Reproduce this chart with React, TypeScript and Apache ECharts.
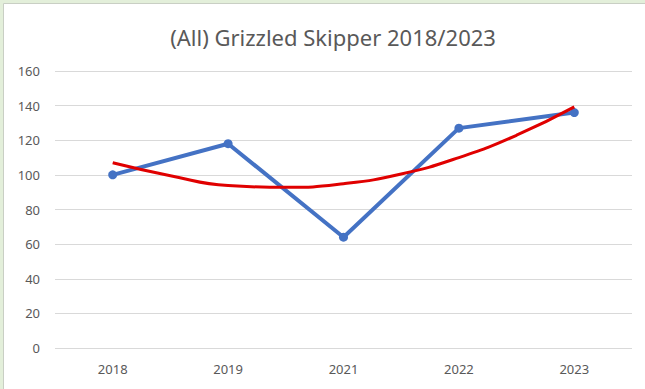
import React, { useEffect, useRef } from "react";
import * as echarts from "echarts";

const TITLE = "(All) Grizzled Skipper 2018/2023";
const categories = ["2018", "2019", "2021", "2022", "2023"];
const counts = [100, 118, 64, 127, 136];
// polynomial (order 2) trendline, read at each category and half-way between
const trendSteps = ["2018", "", "2019", "", "2021", "", "2022", "", "2023"];
const trend = [107, 99.5, 93.8, 92.8, 94.9, 100.5, 110, 122.9, 139.3];
const yTicks = { min: 0, max: 160, interval: 20 };

export default function App() {
  const ref = useRef<HTMLDivElement>(null);
  useEffect(() => {
    document.body.style.margin = "0";
    const chart = echarts.init(ref.current!, undefined, { renderer: "svg" });
    const font = "'Noto Sans', 'Open Sans', sans-serif";
    const W = 645;
    const gl = 55;
    const gr = 13;
    const band = (W - gl - gr) / categories.length;
    chart.setOption({
      animation: false,
      backgroundColor: "#ffffff",
      textStyle: { fontFamily: font },
      graphic: [
        {
          type: "rect",
          silent: true,
          z: -10,
          shape: { x: 0, y: 0, width: 645, height: 389 },
          style: { fill: "#e3efda" },
        },
        {
          type: "rect",
          silent: true,
          z: -9,
          shape: { x: 3.5, y: 3.5, width: 650, height: 400 },
          style: { fill: "#ffffff", stroke: "#c9cfc4", lineWidth: 1 },
        },
      ],
      title: {
        text: TITLE,
        left: 328,
        textAlign: "center",
        top: 21,
        textStyle: {
          fontFamily: font,
          fontSize: 22,
          fontWeight: "normal",
          color: "#595959",
        },
      },
      grid: [
        { left: gl, right: gr, top: 71, bottom: 41, containLabel: false },
        {
          left: gl + band / 2,
          right: gr + band / 2,
          top: 71,
          bottom: 41,
          containLabel: false,
        },
      ],
      xAxis: [
        {
          type: "category",
          gridIndex: 0,
          data: categories,
          boundaryGap: true,
          axisLine: { show: false },
          axisTick: { show: false },
          axisLabel: { color: "#595959", fontSize: 13, margin: 14, fontFamily: font },
        },
        {
          type: "category",
          gridIndex: 1,
          data: trendSteps,
          boundaryGap: false,
          show: false,
        },
      ],
      yAxis: [
        {
          type: "value",
          gridIndex: 0,
          min: yTicks.min,
          max: yTicks.max,
          interval: yTicks.interval,
          axisLine: { show: false },
          axisTick: { show: false },
          axisLabel: { color: "#595959", fontSize: 13, margin: 15, fontFamily: font },
          splitLine: { lineStyle: { color: "#d9d9d9", width: 1 } },
        },
        {
          type: "value",
          gridIndex: 1,
          min: yTicks.min,
          max: yTicks.max,
          interval: yTicks.interval,
          show: false,
        },
      ],
      series: [
        {
          name: "Count",
          type: "line",
          data: counts,
          symbol: "circle",
          symbolSize: 9,
          lineStyle: { color: "#4472c4", width: 4 },
          itemStyle: { color: "#4472c4" },
          z: 2,
        },
        {
          name: "Trend",
          type: "line",
          xAxisIndex: 1,
          yAxisIndex: 1,
          data: trend,
          smooth: true,
          symbol: "none",
          lineStyle: { color: "#e00000", width: 3 },
          z: 3,
        },
      ],
    });
    return () => chart.dispose();
  }, []);
  return <div ref={ref} style={{ width: 645, height: 389 }} />;
}
